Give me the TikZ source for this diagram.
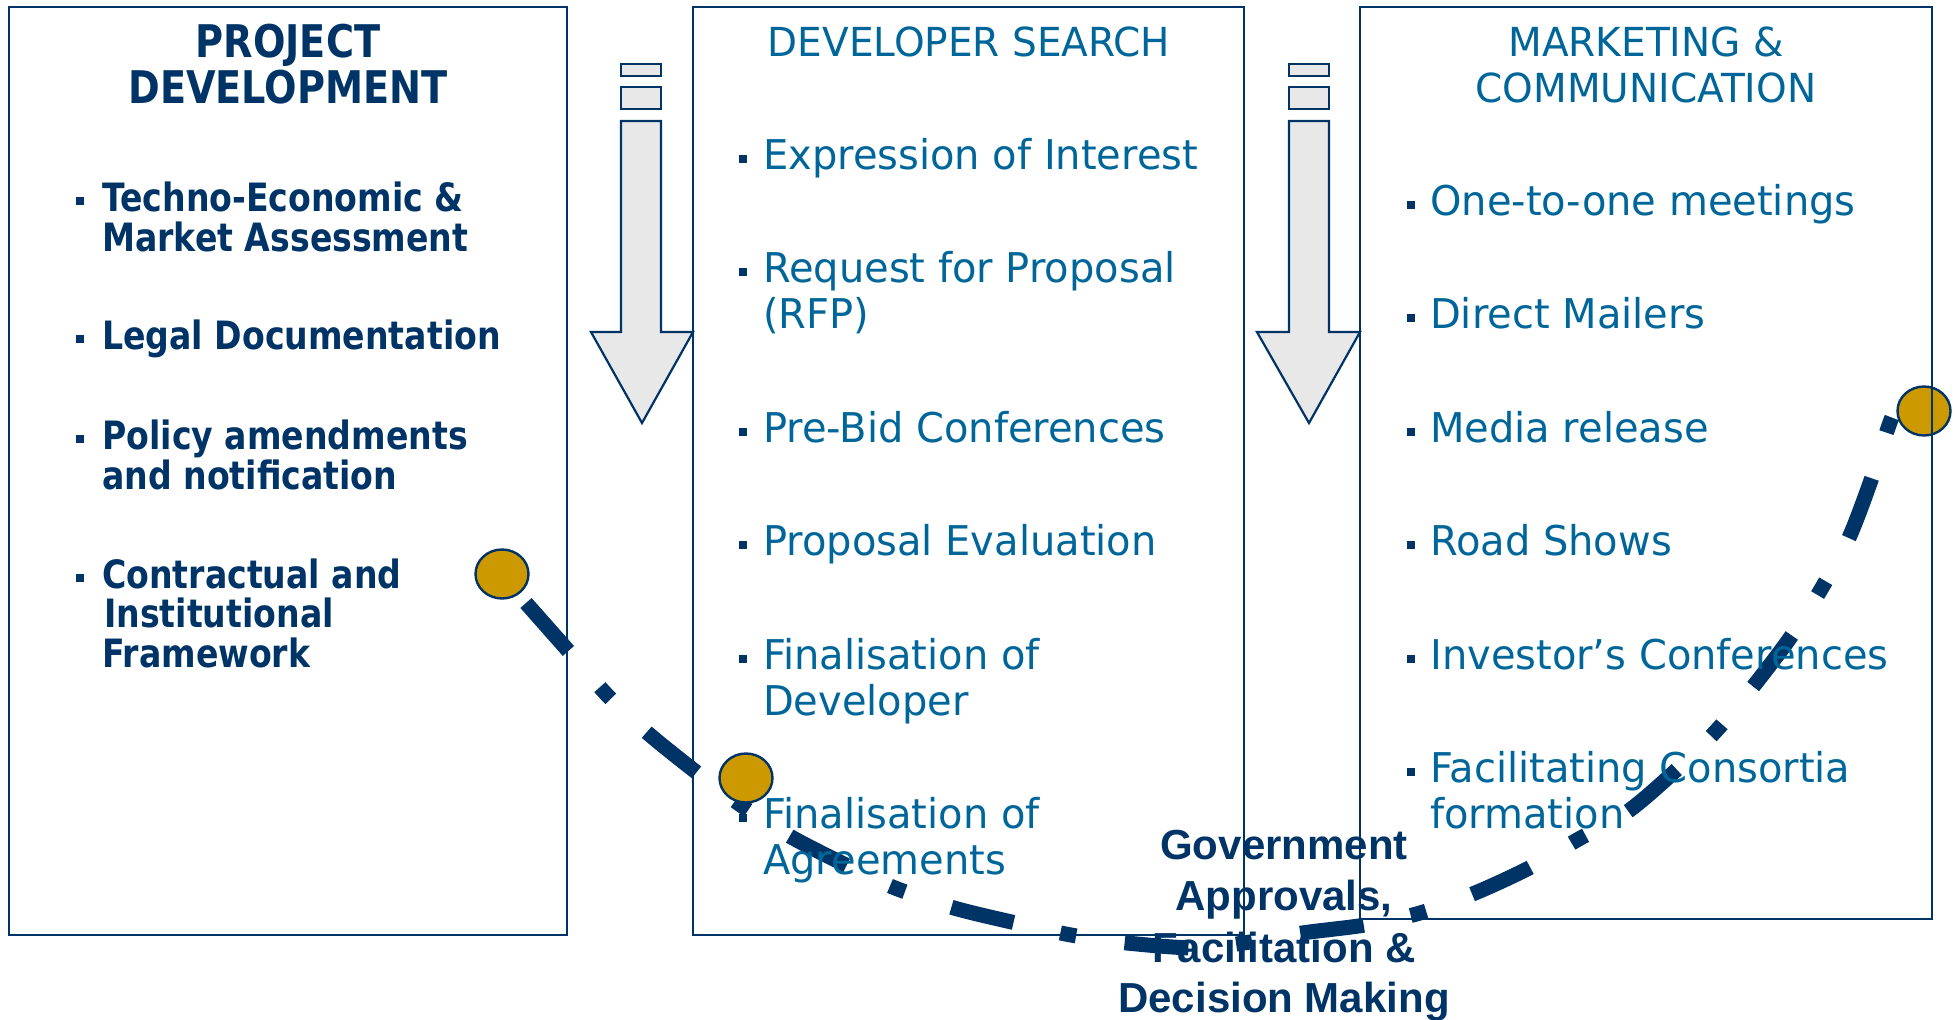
\documentclass[tikz,border=0pt]{standalone}
\usepackage{fontspec}
\usetikzlibrary{shapes.geometric}
\setmainfont{DejaVu Sans}
\newfontfamily\regf[FakeStretch=0.975]{DejaVu Sans}
\newfontfamily\boldf[FakeStretch=0.85]{DejaVu Sans}
\newfontfamily\govf{Liberation Sans}
\definecolor{navy}{HTML}{003366}
\definecolor{tblue}{HTML}{006699}
\definecolor{agray}{HTML}{E8E8E8}
\definecolor{gold}{HTML}{CC9900}
\newcommand\bul[2]{\fill[navy] (#1-4,#2-6) rectangle (#1+4,#2-14);}
\tikzset{
  box/.style={draw=navy, line width=1.8pt, inner sep=0pt},
  bigarrow/.style={fill=agray, draw=navy, line width=2.2pt, line join=miter},
  golddot/.style={shape=ellipse, fill=gold, draw=navy, line width=2.4pt, minimum width=53pt, minimum height=49pt, inner sep=0pt},
  curve/.style={draw=navy, line width=15pt, dash pattern=on 64pt off 48pt on 16pt off 49pt},
  ttlB/.style={font=\boldf\bfseries\fontsize{45}{50}\selectfont, text=navy, inner sep=0pt, anchor=base},
  ttlR/.style={font=\regf\fontsize{40}{46}\selectfont, text=tblue, inner sep=0pt, anchor=base},
  itB/.style={font=\boldf\bfseries\fontsize{39}{40}\selectfont, text=navy, inner sep=0pt, anchor=base west},
  itR/.style={font=\regf\fontsize{41}{46}\selectfont, text=tblue, inner sep=0pt, anchor=base west},
  gov/.style={font=\govf\bfseries\fontsize{42}{51}\selectfont, text=navy, inner sep=0pt, anchor=base}
}
\begin{document}
\begin{tikzpicture}[x=1pt,y=-1pt]
\useasboundingbox (0,0) rectangle (1955,1020);

% dash-dot curve
\draw[curve] plot[smooth, tension=0.5] coordinates {
 (526,603) (572,655) (609,697) (650,735) (700,775) (745,808) (793,838)
 (850,867) (895,888) (954,908) (1016,923) (1071,935) (1127,943) (1197,948)
 (1250,942) (1302,933) (1365,925) (1420,913) (1475,893) (1529,868)
 (1577,840) (1627,812) (1673,773) (1715,732) (1752,688) (1790,638)
 (1820,591) (1848,540) (1870,483) (1888,428) (1898,402)};

% gold dots
\node[golddot] (c1) at (502,574) {};
\node[golddot] (c2) at (746,778) {};
\node[golddot] (c3) at (1924,411) {};

% big arrows
\filldraw[bigarrow] (621,64) rectangle (661,76);
\filldraw[bigarrow] (621,87) rectangle (661,109);
\filldraw[bigarrow] (621,121) -- (661,121) -- (661,332) -- (693,332) -- (642,423) -- (591,332) -- (621,332) -- cycle;
\filldraw[bigarrow] (1289,64) rectangle (1329,76);
\filldraw[bigarrow] (1289,87) rectangle (1329,109);
\filldraw[bigarrow] (1289,121) -- (1329,121) -- (1329,332) -- (1360,332) -- (1309,423) -- (1257,332) -- (1289,332) -- cycle;

% boxes
\node[box, minimum width=558pt, minimum height=928pt] (pd) at (288,471) {};
\node[box, minimum width=551pt, minimum height=928pt] (ds) at (968.5,471) {};
\node[box, minimum width=572pt, minimum height=912pt] (mc) at (1646,463) {};

% titles
\node[ttlB] (pdt1) at (288,57) {PROJECT};
\node[ttlB] (pdt2) at (288,103) {DEVELOPMENT};
\node[ttlR] (dst1) at (969,56) {DEVELOPER SEARCH};
\node[ttlR] (mct1) at (1646,56) {MARKETING \&};
\node[ttlR] (mct2) at (1646,102) {COMMUNICATION};

% left items
\bul{80}{211}\bul{80}{349}\bul{80}{449}\bul{80}{588}
\node[itB] (l1a) at (102,211) {Techno-Economic \&};
\node[itB] (l1b) at (102,251) {Market Assessment};
\node[itB] (l2a) at (102,349) {Legal Documentation};
\node[itB] (l3a) at (102,449) {Policy amendments};
\node[itB] (l3b) at (102,489) {and notification};
\node[itB] (l4a) at (102,588) {Contractual and};
\node[itB] (l4b) at (104,627) {Institutional};
\node[itB] (l4c) at (102,667) {Framework};

% middle items
\bul{743}{169}\bul{743}{282}\bul{743}{442}\bul{743}{555}\bul{743}{669}\bul{743}{828}
\node[itR] (m1a) at (763,169) {Expression of Interest};
\node[itR] (m2a) at (763,282) {Request for Proposal};
\node[itR] (m2b) at (763,328) {(RFP)};
\node[itR] (m3a) at (763,442) {Pre-Bid Conferences};
\node[itR] (m4a) at (763,555) {Proposal Evaluation};
\node[itR] (m5a) at (763,669) {Finalisation of};
\node[itR] (m5b) at (763,715) {Developer};
\node[itR] (m6a) at (763,828) {Finalisation of};
\node[itR] (m6b) at (763,874) {Agreements};

% right items
\bul{1411}{215}\bul{1411}{328}\bul{1411}{442}\bul{1411}{555}\bul{1411}{669}\bul{1411}{782}
\node[itR] (r1a) at (1430,215) {One-to-one meetings};
\node[itR] (r2a) at (1430,328) {Direct Mailers};
\node[itR] (r3a) at (1430,442) {Media release};
\node[itR] (r4a) at (1430,555) {Road Shows};
\node[itR] (r5a) at (1430,669) {Investor’s Conferences};
\node[itR] (r6a) at (1430,782) {Facilitating Consortia};
\node[itR] (r6b) at (1430,828) {formation};

% government label
\node[gov] (g1) at (1284,859) {Government};
\node[gov] (g2) at (1284,910) {Approvals,};
\node[gov] (g3) at (1284,962) {Facilitation \&};
\node[gov] (g4) at (1284,1012) {Decision Making};
\end{tikzpicture}
\end{document}
